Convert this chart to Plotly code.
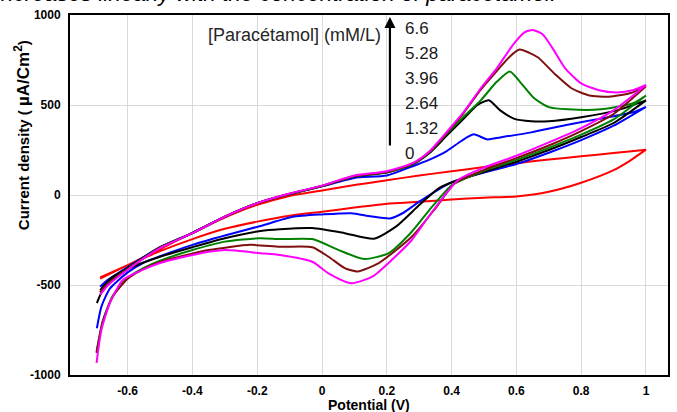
import plotly.graph_objects as go

# ---------------- data ----------------
conc_labels = ["6.6", "5.28", "3.96", "2.64", "1.32", "0"]

red_fwd_x = [-0.685, -0.6, -0.5, -0.4, -0.3, -0.2, -0.1, 0.0, 0.1, 0.2, 0.3, 0.4, 0.5, 0.6, 0.7, 0.8, 0.9, 1.0]
red_fwd_y = [-465, -390, -300, -210, -125, -55, -5, 25, 55, 82, 108, 132, 155, 177, 197, 215, 233, 252]
red_rev_x = [1.0, 0.95, 0.9, 0.8, 0.7, 0.6, 0.5, 0.4, 0.3, 0.2, 0.1, 0.0, -0.1, -0.2, -0.3, -0.4, -0.5, -0.6, -0.685]
red_rev_y = [252, 190, 138, 68, 18, -8, -15, -25, -38, -48, -70, -93, -115, -148, -188, -245, -312, -390, -458]

blue_fwd_x = [-0.685, -0.66, -0.6, -0.5, -0.4, -0.3, -0.2, -0.1, 0.0, 0.1, 0.2, 0.28, 0.33, 0.385, 0.43, 0.468, 0.51, 0.55, 0.646, 0.75, 0.855, 0.96, 1.0]
blue_fwd_y = [-510, -470, -400, -290, -210, -120, -45, 5, 48, 95, 108, 160, 195, 244, 300, 337, 309, 320, 348, 387, 423, 460, 490]
blue_rev_x = [1.0, 0.9, 0.8, 0.7, 0.6, 0.5, 0.4, 0.3, 0.25, 0.21, 0.15, 0.09, 0.0, -0.09, -0.19, -0.3, -0.4, -0.5, -0.55, -0.6, -0.655, -0.681, -0.695]
blue_rev_y = [490, 385, 305, 235, 172, 125, 70, -37, -100, -130, -118, -101, -108, -121, -172, -225, -277, -340, -375, -430, -520, -620, -740]

black_fwd_x = [-0.685, -0.66, -0.6, -0.5, -0.4, -0.3, -0.2, -0.1, 0.0, 0.1, 0.2, 0.28, 0.33, 0.385, 0.437, 0.48, 0.515, 0.55, 0.594, 0.646, 0.70, 0.80, 0.91, 1.0]
black_fwd_y = [-528, -480, -405, -290, -212, -120, -45, 6, 50, 103, 125, 170, 230, 330, 423, 500, 526, 470, 423, 410, 410, 432, 470, 526]
black_rev_x = [1.0, 0.9, 0.8, 0.7, 0.6, 0.5, 0.42, 0.36, 0.30, 0.228, 0.16, 0.07, -0.03, -0.13, -0.19, -0.3, -0.4, -0.5, -0.6, -0.65, -0.677, -0.695]
black_rev_y = [526, 400, 322, 250, 185, 128, 83, 37, -56, -176, -243, -212, -184, -190, -200, -240, -290, -343, -410, -460, -527, -600]

green_fwd_x = [-0.685, -0.66, -0.6, -0.5, -0.4, -0.3, -0.2, -0.1, 0.0, 0.1, 0.2, 0.28, 0.33, 0.385, 0.44, 0.49, 0.54, 0.58, 0.615, 0.655, 0.70, 0.76, 0.86, 0.96, 1.0]
green_fwd_y = [-540, -490, -410, -292, -212, -120, -45, 6, 50, 104, 126, 172, 235, 340, 440, 526, 630, 686, 620, 537, 488, 476, 476, 510, 553]
green_rev_x = [1.0, 0.9, 0.8, 0.7, 0.6, 0.5, 0.443, 0.40, 0.34, 0.277, 0.206, 0.13, 0.052, -0.03, -0.13, -0.19, -0.3, -0.4, -0.5, -0.55, -0.6, -0.646, -0.677, -0.696]
green_rev_y = [553, 420, 335, 262, 195, 135, 92, 54, -65, -204, -323, -356, -306, -245, -245, -240, -259, -306, -365, -405, -460, -560, -700, -870]

brown_fwd_x = [-0.685, -0.66, -0.6, -0.5, -0.4, -0.3, -0.2, -0.1, 0.0, 0.1, 0.2, 0.28, 0.33, 0.385, 0.437, 0.49, 0.54, 0.58, 0.61, 0.64, 0.667, 0.72, 0.77, 0.825, 0.886, 0.95, 1.0]
brown_fwd_y = [-540, -492, -412, -293, -212, -120, -45, 7, 50, 105, 128, 175, 238, 345, 455, 585, 690, 770, 808, 790, 764, 670, 593, 553, 546, 565, 604]
brown_rev_x = [1.0, 0.9, 0.8, 0.7, 0.6, 0.5, 0.41, 0.35, 0.277, 0.175, 0.11, 0.07, 0.02, -0.03, -0.13, -0.22, -0.35, -0.5, -0.55, -0.6, -0.646, -0.677, -0.696]
brown_rev_y = [604, 450, 355, 275, 205, 140, 65, -74, -232, -378, -425, -406, -343, -290, -288, -277, -306, -372, -410, -465, -565, -705, -878]

mag_fwd_x = [-0.685, -0.66, -0.6, -0.5, -0.4, -0.3, -0.2, -0.1, 0.0, 0.1, 0.2, 0.28, 0.33, 0.385, 0.437, 0.49, 0.54, 0.59, 0.625, 0.65, 0.68, 0.71, 0.75, 0.80, 0.855, 0.91, 0.96, 1.0]
mag_fwd_y = [-555, -500, -415, -295, -212, -120, -45, 8, 52, 108, 132, 177, 240, 350, 460, 593, 705, 836, 904, 917, 894, 820, 705, 620, 582, 570, 582, 611]
mag_rev_x = [1.0, 0.9, 0.8, 0.7, 0.6, 0.5, 0.42, 0.34, 0.277, 0.215, 0.155, 0.09, 0.02, -0.03, -0.13, -0.19, -0.3, -0.4, -0.5, -0.554, -0.615, -0.655, -0.681, -0.696]
mag_rev_y = [611, 470, 372, 292, 218, 152, 83, -93, -250, -361, -454, -490, -435, -371, -333, -323, -306, -333, -378, -416, -472, -600, -749, -932]

x_tick_vals = [-0.6, -0.4, -0.2, 0, 0.2, 0.4, 0.6, 0.8, 1]
x_tick_text = ["-0.6", "-0.4", "-0.2", "0", "0.2", "0.4", "0.6", "0.8", "1"]
y_tick_vals = [-1000, -500, 0, 500, 1000]
y_tick_text = ["-1000", "-500", "0", "500", "1000"]

# ---------------- layout geometry ----------------
W, H = 677, 412
L, R, T, B = 70, 7, 15, 37
PW, PH = W - L - R, H - T - B


def pxx(xp):
    return (xp - L) / PW


def pxy(yp):
    return (H - B - yp) / PH


series = [
    (red_fwd_x + red_rev_x, red_fwd_y + red_rev_y, "#FF0000"),
    (blue_fwd_x + blue_rev_x, blue_fwd_y + blue_rev_y, "#0000FF"),
    (black_fwd_x + black_rev_x, black_fwd_y + black_rev_y, "#000000"),
    (green_fwd_x + green_rev_x, green_fwd_y + green_rev_y, "#008000"),
    (brown_fwd_x + brown_rev_x, brown_fwd_y + brown_rev_y, "#7F1010"),
    (mag_fwd_x + mag_rev_x, mag_fwd_y + mag_rev_y, "#FF00FF"),
]

fig = go.Figure()
for xs, ys, col in series:
    fig.add_trace(go.Scatter(x=xs, y=ys, mode="lines",
                             line=dict(color=col, width=2, shape="spline", smoothing=0.6),
                             showlegend=False, hoverinfo="skip"))

tickfont = dict(family="Liberation Sans", size=12, color="#000000", weight="bold")
fig.update_layout(
    width=W, height=H,
    margin=dict(l=L, r=R, t=T, b=B, pad=0),
    paper_bgcolor="white", plot_bgcolor="white",
    xaxis=dict(range=[-0.778, 1.068], tickvals=x_tick_vals, ticktext=x_tick_text,
               showgrid=True, gridcolor="#D9D9D9", gridwidth=1, zeroline=False,
               showline=True, linecolor="black", linewidth=2, mirror=True,
               ticks="", tickfont=tickfont, ticklabelstandoff=4),
    yaxis=dict(range=[-1000, 1000], tickvals=y_tick_vals, ticktext=y_tick_text,
               showgrid=True, gridcolor="#D9D9D9", gridwidth=1, zeroline=False,
               showline=True, linecolor="black", linewidth=2, mirror=True,
               ticks="", tickfont=tickfont, ticklabelstandoff=5),
)

ann = []
# clipped caption at the very top (only its lower part is inside the picture)
ann.append(dict(text="increases linearly with the concentration of paracetamol.",
                xref="paper", yref="paper", x=pxx(560), y=pxy(-6), xanchor="right", yanchor="middle",
                showarrow=False, font=dict(family="Liberation Sans", size=22.5, style="italic", color="#000000")))
# axis titles
ann.append(dict(text="Potential (V)", xref="paper", yref="paper", x=pxx(370), y=pxy(405),
                xanchor="center", yanchor="middle", showarrow=False,
                font=dict(family="Liberation Sans", size=14, weight="bold", color="#000000")))
ann.append(dict(text="Current density ( <span style='font-size:17px'>µA/Cm<sup>2</sup></span>)",
                xref="paper", yref="paper",
                x=pxx(22), y=pxy(135), xanchor="center", yanchor="middle", textangle=-90,
                showarrow=False, font=dict(family="Liberation Sans", size=15, weight="bold", color="#000000")))
# concentration label and arrow
ann.append(dict(text="[Paracétamol] (mM/L)", xref="paper", yref="paper", x=pxx(384), y=pxy(35),
                xanchor="right", yanchor="middle", showarrow=False,
                font=dict(family="Liberation Sans", size=18, color="#262626")))
ann.append(dict(text="", xref="paper", yref="paper", x=pxx(391), y=pxy(17), ax=0, ay=130,
                showarrow=True, arrowhead=2, arrowsize=1, arrowwidth=2.2, arrowcolor="#000000"))
for i, lab in enumerate(conc_labels):
    ann.append(dict(text=lab, xref="paper", yref="paper", x=pxx(404), y=pxy(29 + i * 24.8),
                    xanchor="left", yanchor="middle", showarrow=False,
                    font=dict(family="Liberation Sans", size=17, color="#1a1a1a")))
fig.update_layout(annotations=ann)

fig.write_html("out.html")
